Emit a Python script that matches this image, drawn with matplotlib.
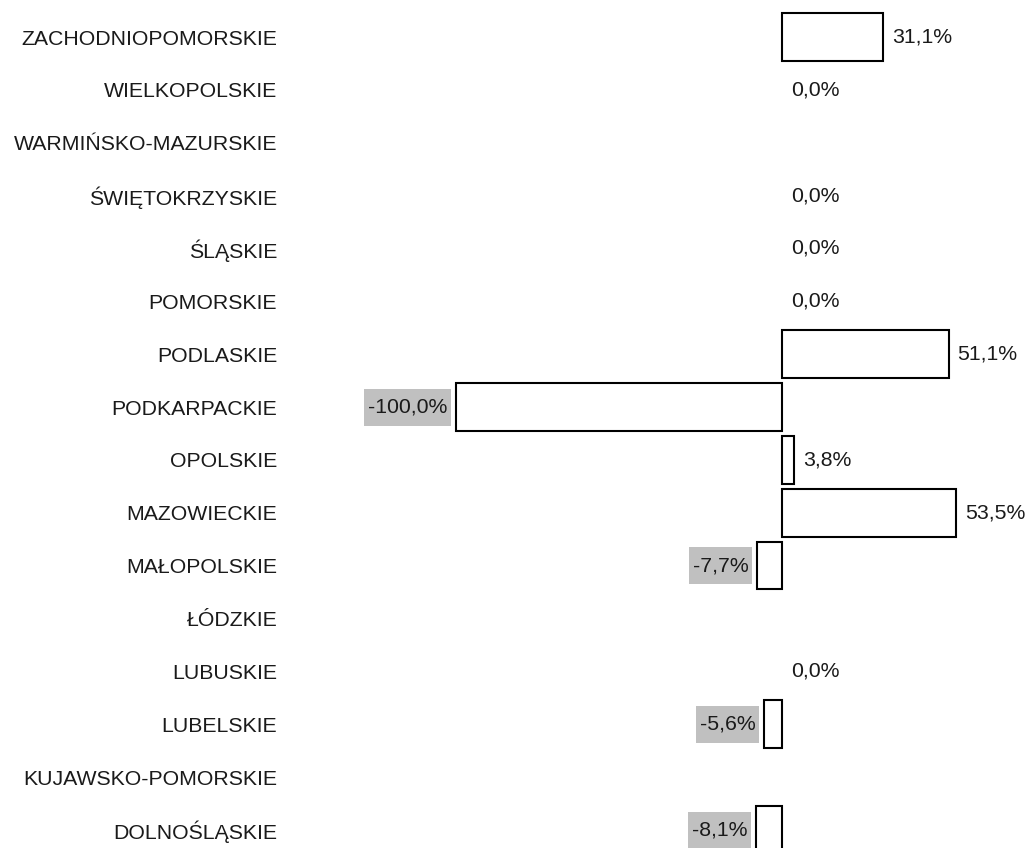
import matplotlib
matplotlib.use('Agg')
import matplotlib.pyplot as plt
from matplotlib.path import Path

plt.rcParams['font.family'] = ['Liberation Sans', 'DejaVu Sans']

regions = ['ZACHODNIOPOMORSKIE', 'WIELKOPOLSKIE', 'WARMIŃSKO-MAZURSKIE', 'ŚWIĘTOKRZYSKIE',
           'ŚLĄSKIE', 'POMORSKIE', 'PODLASKIE', 'PODKARPACKIE', 'OPOLSKIE', 'MAZOWIECKIE',
           'MAŁOPOLSKIE', 'ŁÓDZKIE', 'LUBUSKIE', 'LUBELSKIE', 'KUJAWSKO-POMORSKIE', 'DOLNOŚLĄSKIE']
# None = no data (no bar, no label)
change = [31.1, 0.0, None, 0.0, 0.0, 0.0, 51.1, -100.0, 3.8, 53.5, -7.7, None, 0.0, -5.6, None, -8.1]

FS = 15.3


def gray_box(x0, y0, width, height, mutation_size):
    # taller than the text, small padding on the sides
    padx = 0.18 * mutation_size
    half = 0.87 * mutation_size
    cy = y0 + height / 2
    xa, xb = x0 - padx, x0 + width + padx
    ya, yb = cy - half, cy + half
    return Path([(xa, ya), (xb, ya), (xb, yb), (xa, yb), (xa, ya)], closed=True)


def fmt(v):
    return ('%.1f%%' % v).replace('.', ',')


fig = plt.figure(figsize=(10.26, 8.48), dpi=100)
ax = fig.add_axes([300 / 1026, 0, 726 / 1026, 1])

ys = list(range(len(regions)))
for y, v in zip(ys, change):
    if v is None:
        continue
    if v != 0:
        ax.barh(y, v, height=0.9, color='white', edgecolor='black', linewidth=1.5)
    if v < 0:
        ax.annotate(fmt(v), (v, y), xytext=(-6, 0), textcoords='offset points',
                    ha='right', va='center', fontsize=FS, color='#1a1a1a',
                    bbox=dict(boxstyle=gray_box, facecolor='#c0c0c0', edgecolor='none'))
    else:
        ax.annotate(fmt(v), (v, y), xytext=(6.3, 0), textcoords='offset points',
                    ha='left', va='center', fontsize=FS, color='#1a1a1a')

ax.set_xlim(-147.85, 74.85)
ax.set_ylim(15.34, -0.70)
ax.set_yticks(ys)
ax.set_yticklabels(regions, fontsize=FS, color='#1a1a1a')
ax.tick_params(axis='y', length=0, pad=16.5)
ax.set_xticks([])
for s in ax.spines.values():
    s.set_visible(False)

fig.savefig('out.png', dpi=100)
